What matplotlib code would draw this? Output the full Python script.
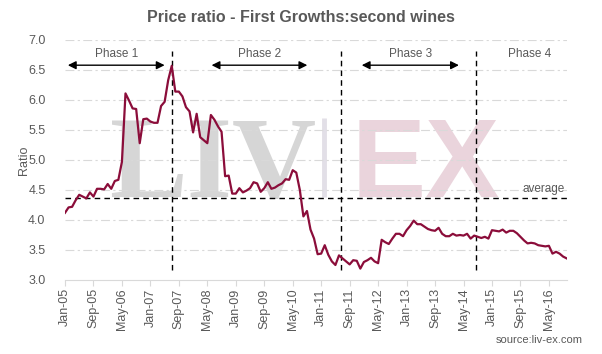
import matplotlib
matplotlib.use('Agg')
from matplotlib import pyplot as plt
import numpy as np

# monthly price ratio, Jan-05 .. Oct-16
ratio = [4.12, 4.21, 4.22, 4.33, 4.42, 4.39, 4.36, 4.46, 4.39, 4.52,
         4.52, 4.51, 4.60, 4.52, 4.65, 4.67, 4.97, 6.11, 5.99, 5.86,
         5.85, 5.28, 5.68, 5.69, 5.64, 5.62, 5.62, 5.90, 5.97, 6.33,
         6.57, 6.14, 6.14, 6.06, 5.88, 5.81, 5.46, 5.77, 5.38, 5.33,
         5.28, 5.75, 5.67, 5.56, 5.47, 4.73, 4.74, 4.44, 4.44, 4.53,
         4.46, 4.49, 4.53, 4.63, 4.61, 4.47, 4.53, 4.63, 4.52, 4.54,
         4.58, 4.61, 4.68, 4.67, 4.83, 4.79, 4.50, 4.06, 4.15, 3.84,
         3.69, 3.43, 3.44, 3.58, 3.42, 3.31, 3.25, 3.41, 3.36, 3.31,
         3.26, 3.33, 3.32, 3.19, 3.30, 3.33, 3.37, 3.31, 3.28, 3.67,
         3.63, 3.60, 3.69, 3.77, 3.77, 3.73, 3.83, 3.90, 3.99, 3.93,
         3.93, 3.89, 3.85, 3.83, 3.82, 3.87, 3.77, 3.73, 3.73, 3.77,
         3.74, 3.75, 3.74, 3.77, 3.69, 3.74, 3.72, 3.70, 3.72, 3.69,
         3.83, 3.82, 3.81, 3.84, 3.79, 3.82, 3.82, 3.78, 3.72, 3.66,
         3.61, 3.62, 3.61, 3.58, 3.57, 3.56, 3.57, 3.44, 3.47, 3.44,
         3.39, 3.36]

tick_labels = ['Jan-05', 'Sep-05', 'May-06', 'Jan-07', 'Sep-07', 'May-08',
               'Jan-09', 'Sep-09', 'May-10', 'Jan-11', 'Sep-11', 'May-12',
               'Jan-13', 'Sep-13', 'May-14', 'Jan-15', 'Sep-15', 'May-16']
tick_step = 8

average = 4.36
phase_breaks = [30.2, 77.7, 115.4]
phase_names = ['Phase 1', 'Phase 2', 'Phase 3', 'Phase 4']
phase_spans = [(0.8, 28.0), (41.2, 68.1), (83.4, 110.7), (119.9, 141.2)]

LINE = '#8b0d3a'
GREY = '#595959'
plt.rcParams['font.family'] = ['Liberation Sans', 'DejaVu Sans']

fig = plt.figure(figsize=(6.02, 3.54), dpi=100)
ax = fig.add_axes([65 / 602, 1 - 280 / 354, (566.7 - 65) / 602, 240 / 354])

x = np.arange(len(ratio))

# watermark
ax.text(41.5, 4.39, 'LIV', family='Liberation Serif', fontweight='bold',
        fontsize=84, color='#d6d6d6', ha='center', va='baseline', zorder=0)
ax.plot([72.9, 72.9], [4.39, 5.70], color='#e2dfe7', lw=3.5, zorder=0,
        solid_capstyle='butt')
ax.text(101.5, 4.39, 'EX', family='Liberation Sans', fontweight='bold',
        fontsize=80, color='#ead4dc', ha='center', va='baseline', zorder=0)

for yv in np.arange(3.5, 7.01, 0.5):
    ax.axhline(yv, color='#d9d9d9', lw=0.8, ls=(0, (8, 3, 2, 3)), zorder=0.5)

ax.plot(x, ratio, color=LINE, lw=1.6, zorder=3)
ax.axhline(average, color='black', lw=1, ls=(0, (4, 3)), zorder=2)
ax.text(140.5, average + 0.05, 'average', color=GREY, fontsize=8.5,
        ha='right', va='bottom')

for b in phase_breaks:
    ax.plot([b, b], [3.17, 6.82], color='black', lw=1, ls=(0, (4, 3)), zorder=2)

for i, (name, (a, b)) in enumerate(zip(phase_names, phase_spans)):
    style = '-|>' if i == 3 else '<|-|>'
    ax.annotate('', xy=(b, 6.58), xytext=(a, 6.58),
                arrowprops=dict(arrowstyle=style, color='black', lw=1,
                                mutation_scale=12, shrinkA=0, shrinkB=0))
    ax.text((a + b) / 2, 6.76, name, color=GREY, fontsize=8.5,
            ha='center', va='center')

ax.set_xlim(0, len(ratio) - 1)
ax.set_ylim(3, 7)
ax.set_yticks(np.arange(3, 7.01, 0.5))
ax.set_yticklabels(['%.1f' % v for v in np.arange(3, 7.01, 0.5)])
ax.set_xticks(np.arange(len(tick_labels)) * tick_step)
ax.set_xticklabels(tick_labels, rotation=90)
ax.tick_params(axis='x', colors='#d9d9d9', labelcolor=GREY, labelsize=9,
               length=4, pad=2)
ax.tick_params(axis='y', length=0, labelcolor=GREY, labelsize=9, pad=14)
for s in ['top', 'right', 'left']:
    ax.spines[s].set_visible(False)
ax.spines['bottom'].set_color('#d9d9d9')
ax.set_ylabel('Ratio', color=GREY, fontsize=9)
ax.yaxis.set_label_coords(-(65 - 30) / 501.7, 0.5)

fig.text(0.5, 1 - 17 / 354, 'Price ratio - First Growths:second wines',
         ha='center', va='center', fontsize=11.5, fontweight='bold', color=GREY)
fig.text(583 / 602, 1 - 340 / 354, 'source:liv-ex.com', ha='right',
         va='center', fontsize=8, color=GREY)

fig.savefig('out.png', dpi=100)
